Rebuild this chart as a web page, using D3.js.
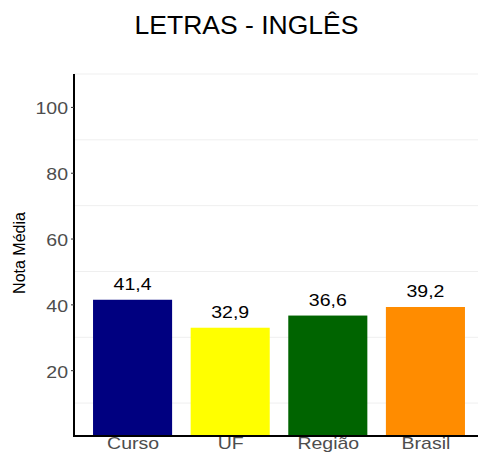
<!DOCTYPE html>
<html>
<head>
<meta charset="utf-8">
<script src="https://cdn.jsdelivr.net/npm/d3@7"></script>
<style>
  body { margin: 0; background: #fff; }
  svg { display: block; font-family: "Liberation Sans", Arial, sans-serif; }
</style>
</head>
<body>
<div id="chart"></div>
<script>
// chart data
const categories = ["Curso", "UF", "Região", "Brasil"];
const values = [41.4, 32.9, 36.6, 39.2];
const barColors = ["#000080", "#ffff00", "#006400", "#ff8c00"];
const yTicks = [20, 40, 60, 80, 100];
const yGrid = [10, 30, 50, 70, 90, 110];

const width = 478, height = 452;
const panel = {left: 74, right: 484, top: 74, bottom: 436};
const stretch = 1.22; // tick text looks horizontally stretched in the original

const svg = d3.select("#chart").append("svg")
  .attr("width", width)
  .attr("height", height);

// scales
const y = d3.scaleLinear().domain([0, 110]).range([panel.bottom, panel.top]);
const x = d3.scalePoint().domain(categories).range([panel.left, panel.right]).padding(0.6);
const barW = x.step() * 0.81;

// faint gridlines (only the minor ones show)
svg.append("g")
  .selectAll("line")
  .data(yGrid)
  .join("line")
    .attr("x1", panel.left)
    .attr("x2", width)
    .attr("y1", d => y(d))
    .attr("y2", d => y(d))
    .attr("stroke", "#efefef")
    .attr("stroke-width", 1);

// bars
svg.append("g")
  .selectAll("rect")
  .data(categories)
  .join("rect")
    .attr("x", d => x(d) - barW / 2)
    .attr("y", (d, i) => y(values[i]))
    .attr("width", barW)
    .attr("height", (d, i) => y(0) - y(values[i]))
    .attr("fill", (d, i) => barColors[i]);

// value labels
const fmt = v => d3.format(".1f")(v).replace(".", ",");
svg.append("g")
  .selectAll("text")
  .data(categories)
  .join("text")
    .attr("transform", (d, i) => `translate(${x(d)},${y(values[i]) - 10}) scale(${stretch},1)`)
    .style("text-anchor", "middle")
    .style("font-size", "16px")
    .style("fill", "#000")
    .text((d, i) => fmt(values[i]));

// y axis
const yAxis = svg.append("g")
  .attr("transform", `translate(${panel.left},0)`)
  .call(d3.axisLeft(y).tickValues(yTicks).tickSize(3).tickSizeOuter(0));
yAxis.select(".domain").attr("stroke", "#000").attr("stroke-width", 2)
  .attr("d", `M0,${panel.top}V${panel.bottom}`);
yAxis.selectAll(".tick line").attr("stroke", "#333");
yAxis.selectAll(".tick text")
  .attr("x", null).attr("dy", null)
  .attr("transform", `translate(-6,7) scale(${stretch},1)`)
  .style("font-size", "16px")
  .style("font-family", "Liberation Sans, Arial, sans-serif")
  .style("fill", "#4d4d4d");

// x axis
const xAxis = svg.append("g")
  .attr("transform", `translate(0,${panel.bottom})`)
  .call(d3.axisBottom(x).tickSize(0).tickSizeOuter(0));
xAxis.select(".domain").attr("stroke", "#000").attr("stroke-width", 2)
  .attr("d", `M${panel.left - 1},0H${width}`);
xAxis.selectAll(".tick text")
  .attr("y", null).attr("dy", null)
  .attr("transform", `translate(0,13) scale(${stretch},1)`)
  .style("font-size", "16px")
  .style("font-family", "Liberation Sans, Arial, sans-serif")
  .style("fill", "#4d4d4d");

// y label
svg.append("text")
  .attr("transform", `translate(25,253) rotate(-90)`)
  .style("text-anchor", "middle")
  .style("font-size", "16px")
  .style("fill", "#000")
  .text("Nota Média");

// title
svg.append("text")
  .attr("x", 246.5)
  .attr("y", 34)
  .style("text-anchor", "middle")
  .style("font-size", "26.5px")
  .style("fill", "#000")
  .text("LETRAS - INGLÊS");
</script>
</body>
</html>
